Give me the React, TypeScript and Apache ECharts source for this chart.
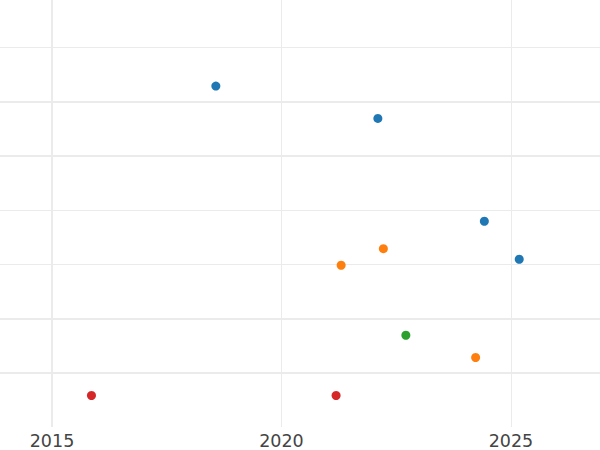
import React, { useEffect, useRef } from "react";
import * as echarts from "echarts";

const xTicks = [2015, 2020, 2025];
const xTickWidths = [2, 1, 1];
const yGrid = [1, 2, 3, 4, 5, 6, 7];
const yGridWidths = [2, 2, 1, 1, 2, 2, 1];

const blueX = [2018.57, 2022.1, 2024.42, 2025.18];
const blueY = [6.28, 5.685, 3.79, 3.09];
const orangeX = [2021.3, 2022.22, 2024.23];
const orangeY = [2.98, 3.285, 1.28];
const greenX = [2022.71];
const greenY = [1.69];
const redX = [2015.86, 2021.19];
const redY = [0.58, 0.58];

const colors = ["#1f77b4", "#ff7f0e", "#2ca02c", "#d62728"];

const zip = (xs: number[], ys: number[]) => xs.map((x, i) => [x, ys[i]]);

export default function App() {
  const ref = useRef<HTMLDivElement>(null);
  useEffect(() => {
    if (!ref.current) return;
    const chart = echarts.init(ref.current, undefined, { renderer: "svg" });
    const gridColor = "#ebebeb";
    const markData: any[] = [
      ...xTicks.map((v, i) => ({
        xAxis: v,
        lineStyle: { width: xTickWidths[i], color: gridColor, type: "solid" },
      })),
      ...yGrid.map((v, i) => ({
        yAxis: v,
        lineStyle: { width: yGridWidths[i], color: gridColor, type: "solid" },
      })),
    ];
    const pts = (name: string, xs: number[], ys: number[], c: string) => ({
      name,
      type: "scatter",
      data: zip(xs, ys),
      symbolSize: 9,
      itemStyle: { color: c, opacity: 1 },
      z: 10,
    });
    chart.setOption({
      animation: false,
      grid: { left: 0, right: 0, top: 0, bottom: 23, containLabel: false },
      xAxis: {
        type: "value",
        min: 2013.867,
        max: 2026.94,
        axisLine: { show: false },
        axisTick: { show: false },
        splitLine: { show: false },
        axisLabel: {
          customValues: xTicks,
          color: "#444",
          fontFamily: "DejaVu Sans",
          fontSize: 17.5,
          lineHeight: 18,
          margin: 4.5,
          formatter: (v: number) => String(Math.round(v)),
        },
      },
      yAxis: {
        type: "value",
        min: 0,
        max: 7.866,
        axisLine: { show: false },
        axisTick: { show: false },
        axisLabel: { show: false },
        splitLine: { show: false },
      },
      series: [
        {
          type: "scatter",
          data: [],
          z: 1,
          markLine: {
            z: 1,
            silent: true,
            symbol: ["none", "none"],
            label: { show: false },
            data: markData,
          },
        },
        pts("a", blueX, blueY, colors[0]),
        pts("b", orangeX, orangeY, colors[1]),
        pts("c", greenX, greenY, colors[2]),
        pts("d", redX, redY, colors[3]),
      ],
    });
    return () => chart.dispose();
  }, []);
  return (
    <div
      ref={ref}
      style={{ position: "fixed", left: 0, top: 0, width: 600, height: 450, background: "#fff" }}
    />
  );
}
